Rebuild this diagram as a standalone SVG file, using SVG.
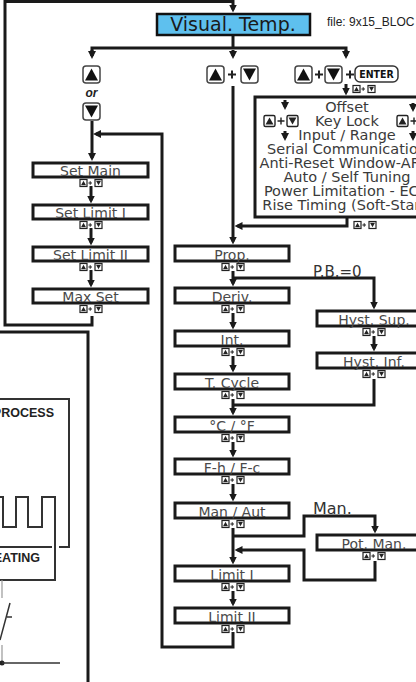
<svg xmlns="http://www.w3.org/2000/svg" width="416" height="682" viewBox="0 0 416 682">
<style>
.ln{fill:none;stroke:#1a1a1a;stroke-width:3}
.box{fill:#fff;stroke:#1a1a1a;stroke-width:3}
.lbl{font-family:"DejaVu Sans","Liberation Sans",sans-serif;font-size:14px;fill:#4a4a4a;text-anchor:middle}
.big{font-family:"DejaVu Sans","Liberation Sans",sans-serif;font-size:14.5px;fill:#3a3a3a;text-anchor:middle}
.thin{fill:none;stroke:#333;stroke-width:2}
.bold{font-family:"Liberation Sans",Arial,sans-serif;font-weight:bold;font-size:12.5px;fill:#222}
</style>
<defs>
<marker id="ah" viewBox="0 0 8 8" refX="5" refY="4" markerWidth="8" markerHeight="8" markerUnits="userSpaceOnUse" orient="auto">
<path d="M0,0 L8,4 L0,8 Z" fill="#1a1a1a"/>
</marker>
<g id="ud">
<rect x="-11" y="-3.5" width="7" height="7" fill="#fff" stroke="#222" stroke-width="1.2"/>
<path d="M-7.5,-2.2 L-10,2.3 L-5,2.3 Z" fill="#222"/>
<path d="M-2.6,0 H1 M-0.8,-1.8 V1.8" stroke="#222" stroke-width="1"/>
<rect x="4" y="-3.5" width="7" height="7" fill="#fff" stroke="#222" stroke-width="1.2"/>
<path d="M5,-2.3 L10,-2.3 L7.5,2.2 Z" fill="#222"/>
</g>
<g id="udm">
<rect x="-17" y="-5.5" width="11" height="11" rx="1.5" fill="#fff" stroke="#222" stroke-width="1.4"/>
<path d="M-11.5,-3.5 L-15.5,3.5 L-7.5,3.5 Z" fill="#222"/>
<path d="M-3.5,0 H3.5 M0,-3.5 V3.5" stroke="#222" stroke-width="1.4"/>
<rect x="6" y="-5.5" width="11" height="11" rx="1.5" fill="#fff" stroke="#222" stroke-width="1.4"/>
<path d="M7.5,-3.5 L15.5,-3.5 L11.5,3.5 Z" fill="#222"/>
</g>
<g id="bU">
<rect x="0" y="0" width="17" height="17" rx="3" fill="#fff" stroke="#444" stroke-width="1.5"/>
<path d="M8.5,2.5 L15,14.5 L2,14.5 Z" fill="#111"/>
</g>
<g id="bD">
<rect x="0" y="0" width="17" height="17" rx="3" fill="#fff" stroke="#444" stroke-width="1.5"/>
<path d="M2,2.5 L15,2.5 L8.5,14.5 Z" fill="#111"/>
</g>
<path id="plus" d="M-4,0 H4 M0,-4 V4" stroke="#222" stroke-width="2"/>
</defs>

<g id="connectors">
<path class="ln" d="M92,316 V325 H5 V1.5 H233 V9.5" marker-end="url(#ah)"/>
<path class="ln" d="M233,36 V48"/>
<path class="ln" d="M92,56 V48 H346 V56" />
<path class="ln" d="M92,50 V56" marker-end="url(#ah)"/>
<path class="ln" d="M233,50 V56" marker-end="url(#ah)"/>
<path class="ln" d="M346,50 V56" marker-end="url(#ah)"/>
<path class="ln" d="M92,121 V158" marker-end="url(#ah)"/>
<path class="ln" d="M233,632 V647 H162 V134 H96" marker-end="url(#ah)"/>
<path class="ln" d="M91,186 V200.5" marker-end="url(#ah)"/>
<path class="ln" d="M91,228 V242.5" marker-end="url(#ah)"/>
<path class="ln" d="M91,270 V284.5" marker-end="url(#ah)"/>
<path class="ln" d="M233,86 V241.5" marker-end="url(#ah)"/>
<path class="ln" d="M346,84 V92.5" marker-end="url(#ah)"/>
<path class="ln" d="M347,218 V226 H237.5" marker-end="url(#ah)"/>
<path class="ln" d="M233,271 V283.5" marker-end="url(#ah)"/>
<path class="ln" d="M233,278 H374 V306.5" marker-end="url(#ah)"/>
<path class="ln" d="M233,313 V326.5" marker-end="url(#ah)"/>
<path class="ln" d="M233,356 V369.5" marker-end="url(#ah)"/>
<path class="ln" d="M233,399 V412.5" marker-end="url(#ah)"/>
<path class="ln" d="M374,379 V405 H233"/>
<path class="ln" d="M374,336 V348.5" marker-end="url(#ah)"/>
<path class="ln" d="M233,442 V454.5" marker-end="url(#ah)"/>
<path class="ln" d="M233,484 V498.5" marker-end="url(#ah)"/>
<path class="ln" d="M233,528 V561.5" marker-end="url(#ah)"/>
<path class="ln" d="M233,536 H304 V516 H375 V530.5" marker-end="url(#ah)"/>
<path class="ln" d="M375,561 V580 H304 V550 H237.5" marker-end="url(#ah)"/>
<path class="ln" d="M233,591 V603.5" marker-end="url(#ah)"/>
</g>

<g id="visual-temp">
<rect x="157" y="14" width="153" height="21" fill="#5ec0ee" stroke="#111" stroke-width="2.5"/>
<text x="233" y="31" font-family="DejaVu Sans, Liberation Sans, sans-serif" font-size="19" fill="#1a1a1a" text-anchor="middle">Visual. Temp.</text>
</g>
<text x="327" y="26" font-family="Liberation Sans, Arial, sans-serif" font-size="12" fill="#222">file: 9x15_BLOC</text>

<g id="keys-left">
<use href="#bU" x="83" y="66"/>
<text x="91.5" y="97" font-family="Liberation Sans, Arial, sans-serif" font-size="12" font-weight="bold" font-style="italic" fill="#222" text-anchor="middle">or</text>
<use href="#bD" x="83" y="103"/>
</g>
<g id="keys-mid">
<use href="#bU" x="207" y="66"/>
<use href="#plus" x="232" y="74.5"/>
<use href="#bD" x="241" y="66"/>
</g>
<g id="keys-right">
<use href="#bU" x="295" y="66"/>
<use href="#plus" x="319" y="74.5"/>
<use href="#bD" x="325" y="66"/>
<use href="#plus" x="350" y="74.5"/>
<rect x="355" y="66" width="43" height="16" rx="5" fill="#fff" stroke="#333" stroke-width="1.5"/>
<text x="376.5" y="78" font-family="DejaVu Sans Condensed, DejaVu Sans, sans-serif" font-size="10.5" font-weight="bold" fill="#111" text-anchor="middle">ENTER</text>
<use href="#ud" x="364" y="89"/>
</g>

<g id="config-box">
<rect class="box" x="255" y="97" width="180" height="120"/>
<text class="big" x="347" y="112">Offset</text>
<text class="big" x="347" y="126">Key Lock</text>
<text class="big" x="347" y="140">Input / Range</text>
<text class="big" x="347" y="154">Serial Communication</text>
<text class="big" x="347" y="168">Anti-Reset Window-ARW</text>
<text class="big" x="347" y="182">Auto / Self Tuning</text>
<text class="big" x="347" y="196">Power Limitation - ECO</text>
<text class="big" x="347" y="210">Rise Timing (Soft-Start)</text>
<path class="ln" d="M285,100 V107" marker-end="url(#ah)"/>
<path class="ln" d="M285,131 V138" marker-end="url(#ah)"/>
<use href="#udm" x="281" y="121"/>
<path class="ln" d="M413,103 V109" marker-end="url(#ah)"/>
<path class="ln" d="M413,131 V138" marker-end="url(#ah)"/>
<use href="#udm" x="414" y="121"/>
<use href="#ud" x="365" y="225"/>
</g>

<g id="set-main"><rect class="box" x="33" y="163" width="115" height="14"/><text class="lbl" x="90.5" y="176">Set Main</text><use href="#ud" x="91" y="183"/></g>
<g id="set-limit-1"><rect class="box" x="33" y="205" width="115" height="14"/><text class="lbl" x="90.5" y="218">Set Limit I</text><use href="#ud" x="91" y="225"/></g>
<g id="set-limit-2"><rect class="box" x="33" y="247" width="115" height="14"/><text class="lbl" x="90.5" y="260">Set Limit II</text><use href="#ud" x="91" y="267"/></g>
<g id="max-set"><rect class="box" x="33" y="289" width="115" height="14"/><text class="lbl" x="90.5" y="302">Max Set</text><use href="#ud" x="91" y="309"/></g>

<g id="prop"><rect class="box" x="175" y="246" width="114" height="15"/><text class="lbl" x="232" y="259.5">Prop.</text><use href="#ud" x="233" y="267"/></g>
<g id="deriv"><rect class="box" x="175" y="288" width="114" height="15"/><text class="lbl" x="232" y="301.5">Deriv.</text><use href="#ud" x="233" y="309"/></g>
<g id="int"><rect class="box" x="175" y="331" width="114" height="15"/><text class="lbl" x="232" y="344.5">Int.</text><use href="#ud" x="233" y="352"/></g>
<g id="t-cycle"><rect class="box" x="175" y="374" width="114" height="15"/><text class="lbl" x="232" y="387.5">T. Cycle</text><use href="#ud" x="233" y="395"/></g>
<g id="c-f"><rect class="box" x="175" y="417" width="114" height="15"/><text class="lbl" x="232" y="430.5">°C / °F</text><use href="#ud" x="233" y="438"/></g>
<g id="fh-fc"><rect class="box" x="175" y="459" width="114" height="15"/><text class="lbl" x="232" y="472.5">F-h / F-c</text><use href="#ud" x="233" y="480"/></g>
<g id="man-aut"><rect class="box" x="175" y="503" width="114" height="15"/><text class="lbl" x="232" y="516.5">Man / Aut</text><use href="#ud" x="233" y="524"/></g>
<g id="limit-1"><rect class="box" x="175" y="566" width="114" height="15"/><text class="lbl" x="232" y="579.5">Limit I</text><use href="#ud" x="233" y="587"/></g>
<g id="limit-2"><rect class="box" x="175" y="608" width="114" height="15"/><text class="lbl" x="232" y="621.5">Limit II</text><use href="#ud" x="233" y="629"/></g>

<g id="hyst-sup"><rect class="box" x="317" y="311" width="114" height="15"/><text class="lbl" x="374" y="324.5">Hyst. Sup.</text><use href="#ud" x="374" y="332"/></g>
<g id="hyst-inf"><rect class="box" x="317" y="353" width="114" height="15"/><text class="lbl" x="374" y="366.5">Hyst. Inf.</text><use href="#ud" x="374" y="374"/></g>
<g id="pot-man"><rect class="box" x="317" y="535" width="114" height="15"/><text class="lbl" x="374" y="548.5">Pot. Man.</text><use href="#ud" x="374" y="556"/></g>

<text x="313" y="277" font-family="DejaVu Sans, Liberation Sans, sans-serif" font-size="15" fill="#333">P.B.=0</text>
<text x="313" y="514" font-family="DejaVu Sans, Liberation Sans, sans-serif" font-size="16" fill="#333">Man.</text>

<g id="side-diagram">
<path class="ln" d="M0,332 H88 V682"/>
<path class="thin" d="M-5,399 H69 V547 H59"/>
<text class="bold" x="54" y="417" text-anchor="end">PROCESS</text>
<path class="thin" d="M-5,497 H3 V527 H16 V497 H28 V527 H42 V497 H55 V580 H-5"/>
<path class="thin" d="M-5,547 H52"/>
<text class="bold" x="40" y="562" text-anchor="end">HEATING</text>
<path d="M2,580 V598 M2,645 V663" stroke="#999" stroke-width="1.2" fill="none"/>
<path d="M0,640 L10,603 M7,617 H12" stroke="#333" stroke-width="1.5" fill="none"/>
<circle cx="2" cy="663" r="2.5" fill="#222"/>
<path d="M2,663 H60" stroke="#333" stroke-width="1.5"/>
</g>
</svg>
